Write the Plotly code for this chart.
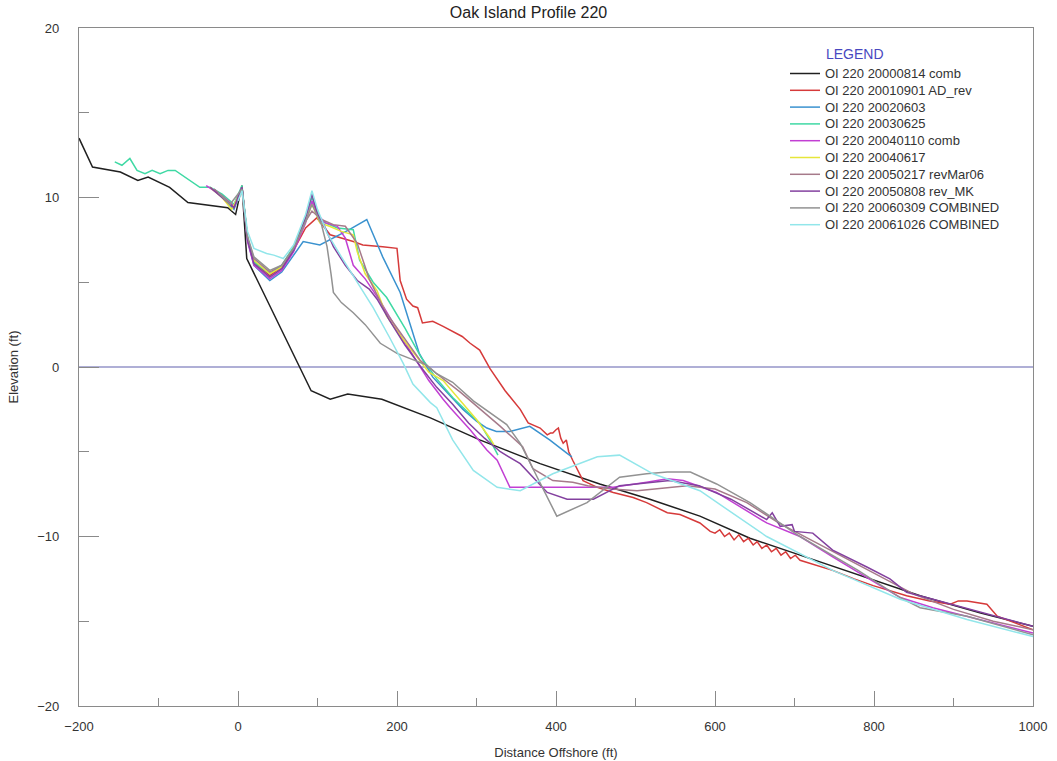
import plotly.graph_objects as go

names = ["OI 220 20000814 comb", "OI 220 20010901 AD_rev", "OI 220 20020603",
         "OI 220 20030625", "OI 220 20040110 comb", "OI 220 20040617",
         "OI 220 20050217 revMar06", "OI 220 20050808 rev_MK",
         "OI 220 20060309 COMBINED", "OI 220 20061026 COMBINED"]
colors = ["#202020", "#d63a3a", "#3a92cf", "#3fd9a4", "#c23fd3", "#e6e63a",
          "#a67a8a", "#83409f", "#929292", "#92e6ea"]

x_2000 = [-200, -183, -148, -126, -113, -86, -63, -13, -3, 5, 11, 92, 116, 138, 181, 242, 304, 380, 455, 518, 581, 644, 707, 782, 858, 933, 1000]
y_2000 = [13.5, 11.8, 11.5, 11.0, 11.2, 10.6, 9.7, 9.4, 9.0, 10.7, 6.4, -1.4, -1.9, -1.6, -1.9, -3.0, -4.3, -5.7, -6.9, -7.8, -8.8, -10.1, -11.1, -12.3, -13.5, -14.5, -15.3]

x_2001 = [2, 5, 12, 20, 40, 55, 70, 85, 99, 116, 145, 157, 182, 200, 204, 212, 220, 226, 232, 245, 258, 270, 282, 292, 304, 317, 327, 336, 355, 365, 380, 389, 393, 396, 400, 403, 406, 409, 413, 416, 421, 434, 452, 472, 497, 514, 540, 556, 581, 594,
          600, 606, 612, 618, 624, 630, 636, 642, 648, 653, 659, 665, 671, 677, 683, 689, 695, 701, 707, 748, 775, 799, 841, 870, 896, 906, 917, 942, 955, 1000]
y_2001 = [10.2, 10.6, 7.6, 6.2, 5.4, 5.9, 6.9, 8.2, 8.8, 7.8, 7.4, 7.2, 7.1, 7.0, 5.1, 4.0, 3.6, 3.5, 2.6, 2.7, 2.4, 2.1, 1.8, 1.4, 1.0, -0.1, -0.8, -1.4, -2.5, -3.3, -3.6, -4.0, -3.9, -3.9, -3.7, -3.6, -4.2, -4.5, -4.3, -5.0, -5.5, -6.7, -7.1, -7.4, -7.7, -8.0, -8.6, -8.7, -9.2, -9.7,
          -9.8, -9.6, -10.0, -9.8, -10.2, -9.9, -10.3, -10.1, -10.5, -10.3, -10.7, -10.5, -10.9, -10.7, -11.1, -10.9, -11.3, -11.1, -11.4, -12.0, -12.5, -12.9, -13.5, -13.8, -14.0, -13.8, -13.8, -14.0, -14.7, -15.5]

x_2002 = [-30, -15, -5, 5, 12, 20, 40, 55, 70, 82, 103, 120, 140, 162, 182, 204, 228, 245, 265, 283, 300, 313, 325, 342, 367, 392, 414, 420]
y_2002 = [10.5, 9.8, 9.3, 10.6, 7.5, 6.0, 5.1, 5.6, 6.6, 7.4, 7.2, 7.6, 8.1, 8.7, 6.5, 4.4, 0.8, -0.6, -1.6, -2.5, -3.2, -3.6, -3.8, -3.8, -3.5, -4.3, -5.1, -5.3]

x_2003 = [-155, -146, -136, -127, -117, -108, -98, -88, -79, -60, -48, -35, -20, -5, 5, 12, 20, 40, 55, 70, 85, 93, 105, 125, 145, 150, 153, 170, 187, 210, 230, 250, 270, 290, 304, 318, 327]
y_2003 = [12.1, 11.9, 12.3, 11.6, 11.4, 11.6, 11.4, 11.6, 11.6, 11.0, 10.6, 10.6, 10.2, 9.6, 10.7, 7.6, 6.2, 5.5, 6.0, 7.1, 8.8, 10.0, 8.6, 8.2, 8.1, 7.0, 6.3, 5.0, 4.1, 2.3, 0.6, -0.7, -1.8, -2.7, -3.3, -4.4, -5.2]

x_200401 = [-40, -20, -5, 5, 12, 20, 40, 55, 70, 85, 93, 100, 110, 125, 135, 145, 160, 180, 200, 220, 240, 258, 267, 292, 313, 326, 342, 430, 472, 514, 540, 560, 602, 665, 707, 748, 791, 833, 874, 1000]
y_200401 = [10.7, 10.1, 9.5, 10.6, 7.4, 6.0, 5.2, 5.7, 6.8, 8.5, 9.8, 9.0, 8.5, 8.3, 7.6, 6.0, 5.2, 3.8, 2.2, 0.7, -0.8, -1.9, -2.4, -3.7, -4.9, -5.5, -7.1, -7.1, -7.1, -6.8, -6.6, -6.7, -7.4, -9.2, -10.0, -11.2, -12.4, -13.6, -14.2, -15.7]

x_200406 = [-35, -20, -8, 5, 12, 20, 40, 55, 70, 85, 93, 103, 115, 130, 145, 150, 160, 175, 187, 205, 220, 240, 258, 280, 300, 317, 322]
y_200406 = [10.6, 10.0, 9.3, 10.5, 7.6, 6.3, 5.5, 5.9, 7.0, 8.6, 9.6, 8.5, 8.3, 8.0, 7.8, 6.8, 5.5, 4.5, 3.0, 1.8, 0.9, -0.3, -0.8, -2.0, -3.1, -4.2, -4.6]

x_200502 = [-30, -15, -5, 5, 12, 20, 40, 55, 70, 85, 93, 105, 120, 135, 150, 165, 185, 205, 229, 250, 280, 305, 330, 358, 371, 396, 421, 440, 470, 502, 543, 565, 600, 640, 680, 720, 760, 800, 850, 900, 950, 1000]
y_200502 = [10.5, 9.9, 9.4, 10.6, 7.6, 6.4, 5.6, 6.0, 7.0, 8.6, 9.2, 8.7, 8.4, 8.3, 7.3, 5.2, 3.3, 2.0, 0.4, -0.4, -1.5, -2.5, -3.5, -4.7, -6.0, -6.7, -6.8, -7.0, -7.2, -7.3, -7.1, -7.0, -7.2, -8.0, -9.2, -10.2, -11.2, -12.2, -13.4, -14.3, -15.0, -15.5]

x_200508 = [-35, -20, -5, 5, 12, 20, 40, 55, 70, 85, 93, 100, 108, 120, 135, 150, 165, 175, 190, 210, 230, 250, 270, 290, 310, 330, 355, 389, 414, 447, 480, 543, 580, 620, 665, 672, 682, 697, 700, 723, 748, 791, 820, 841, 874, 1000]
y_200508 = [10.6, 10.0, 9.4, 10.6, 7.5, 6.1, 5.3, 5.8, 6.9, 8.8, 10.2, 9.0, 8.4, 7.1, 6.0, 5.1, 4.6, 4.0, 2.8, 1.3, 0.0, -1.2, -2.2, -3.3, -4.2, -5.0, -5.7, -7.4, -7.8, -7.8, -7.0, -6.7, -7.0, -7.8, -9.0, -8.6, -9.4, -9.3, -9.7, -9.8, -10.8, -11.8, -12.5, -13.3, -13.7, -15.3]

x_200603 = [-25, -10, 5, 12, 20, 40, 55, 70, 85, 93, 105, 112, 117, 120, 130, 145, 160, 179, 200, 216, 238, 250, 270, 296, 317, 338, 355, 376, 401, 439, 480, 514, 540, 569, 602, 644, 707, 780, 833, 858, 917, 1000]
y_200603 = [10.3, 9.6, 10.5, 7.7, 6.5, 5.7, 6.0, 7.0, 8.6, 9.6, 8.4, 7.1, 5.5, 4.4, 3.8, 3.2, 2.5, 1.4, 0.8, 0.5, 0.1, -0.4, -0.9, -2.0, -2.7, -3.4, -4.5, -6.5, -8.8, -8.0, -6.5, -6.3, -6.2, -6.2, -6.9, -8.0, -10.0, -12.0, -13.6, -14.2, -14.7, -15.8]

x_200610 = [0, 5, 12, 20, 36, 45, 57, 70, 85, 93, 100, 112, 130, 150, 170, 190, 208, 220, 242, 250, 270, 296, 326, 355, 396, 452, 480, 522, 581, 665, 748, 833, 917, 1000]
y_200610 = [9.8, 10.4, 8.0, 7.0, 6.7, 6.6, 6.4, 7.2, 9.0, 10.4, 9.3, 7.9, 6.5, 5.0, 3.5, 1.8, 0.2, -1.0, -2.1, -2.4, -4.3, -6.1, -7.1, -7.3, -6.3, -5.3, -5.2, -6.3, -7.3, -10.0, -12.0, -13.7, -14.9, -15.9]

xs = [x_2000, x_2001, x_2002, x_2003, x_200401, x_200406, x_200502, x_200508, x_200603, x_200610]
ys = [y_2000, y_2001, y_2002, y_2003, y_200401, y_200406, y_200502, y_200508, y_200603, y_200610]

x_ticks = [-200, 0, 200, 400, 600, 800, 1000]
y_ticks = [-20, -10, 0, 10, 20]

FONT = "Arial, Liberation Sans, sans-serif"
W, H = 1057, 761
ML, MR, MT, MB = 79, 24, 28, 55
PW, PH = W - ML - MR, H - MT - MB


def px_to_paper_x(px):
    return (px - ML) / PW


def py_to_paper_y(py):
    return (H - MB - py) / PH


fig = go.Figure()
for n, c, x, y in zip(names, colors, xs, ys):
    fig.add_trace(go.Scatter(x=x, y=y, mode="lines", name=n, showlegend=False,
                             line=dict(color=c, width=1.5)))

fig.add_shape(type="line", xref="paper", yref="y", x0=0, x1=1, y0=0, y1=0,
              line=dict(color="#9595c8", width=1.5), layer="below")

# legend drawn as shapes + text annotations
leg_line_x0, leg_line_x1, leg_text_x = 790, 820, 823
leg_y0, leg_dy = 73.5, 16.8
for i, (n, c) in enumerate(zip(names, colors)):
    yy = py_to_paper_y(leg_y0 + i * leg_dy)
    fig.add_shape(type="line", xref="paper", yref="paper",
                  x0=px_to_paper_x(leg_line_x0), x1=px_to_paper_x(leg_line_x1), y0=yy, y1=yy,
                  line=dict(color=c, width=1.5))
    fig.add_annotation(text=n, xref="paper", yref="paper", x=px_to_paper_x(leg_text_x), y=yy,
                       xanchor="left", yanchor="middle", showarrow=False,
                       font=dict(family=FONT, size=13, color="#333333"))

fig.add_annotation(text="LEGEND", xref="paper", yref="paper", x=px_to_paper_x(824), y=py_to_paper_y(54),
                   xanchor="left", yanchor="middle", showarrow=False,
                   font=dict(family=FONT, size=14, color="#4848c0"))

axis_common = dict(showgrid=False, zeroline=False, showline=True, linecolor="#8a8a8a",
                   linewidth=1.2, mirror=True, ticks="inside", tickcolor="#8a8a8a",
                   automargin=False,
                   tickfont=dict(family=FONT, size=13, color="#333333"))
fig.update_xaxes(range=[-200, 1000], tickvals=x_ticks, ticklen=15,
                 minor=dict(ticks="inside", dtick=100, ticklen=8, tickcolor="#8a8a8a"),
                 ticklabelstandoff=8,
                 title=dict(text="Distance Offshore (ft)", font=dict(family=FONT, size=13, color="#333333")),
                 **axis_common)
fig.update_yaxes(range=[-20, 20], tickvals=y_ticks, ticklen=20,
                 minor=dict(ticks="inside", dtick=5, ticklen=10, tickcolor="#8a8a8a"),
                 ticklabelstandoff=16,
                 title=dict(text="Elevation (ft)", font=dict(family=FONT, size=13, color="#333333")),
                 **axis_common)

fig.update_layout(
    width=W, height=H,
    margin=dict(l=ML, r=MR, t=MT, b=MB, autoexpand=False),
    paper_bgcolor="white", plot_bgcolor="white",
    title=dict(text="Oak Island Profile 220", x=0.5, xanchor="center",
               y=1 - 12 / H, yanchor="middle",
               font=dict(family=FONT, size=16, color="#222222")),
    showlegend=False,
)

fig.write_html("out.html", config={"displayModeBar": False},
               post_script="document.body.style.margin='0';document.body.style.overflow='hidden';")
